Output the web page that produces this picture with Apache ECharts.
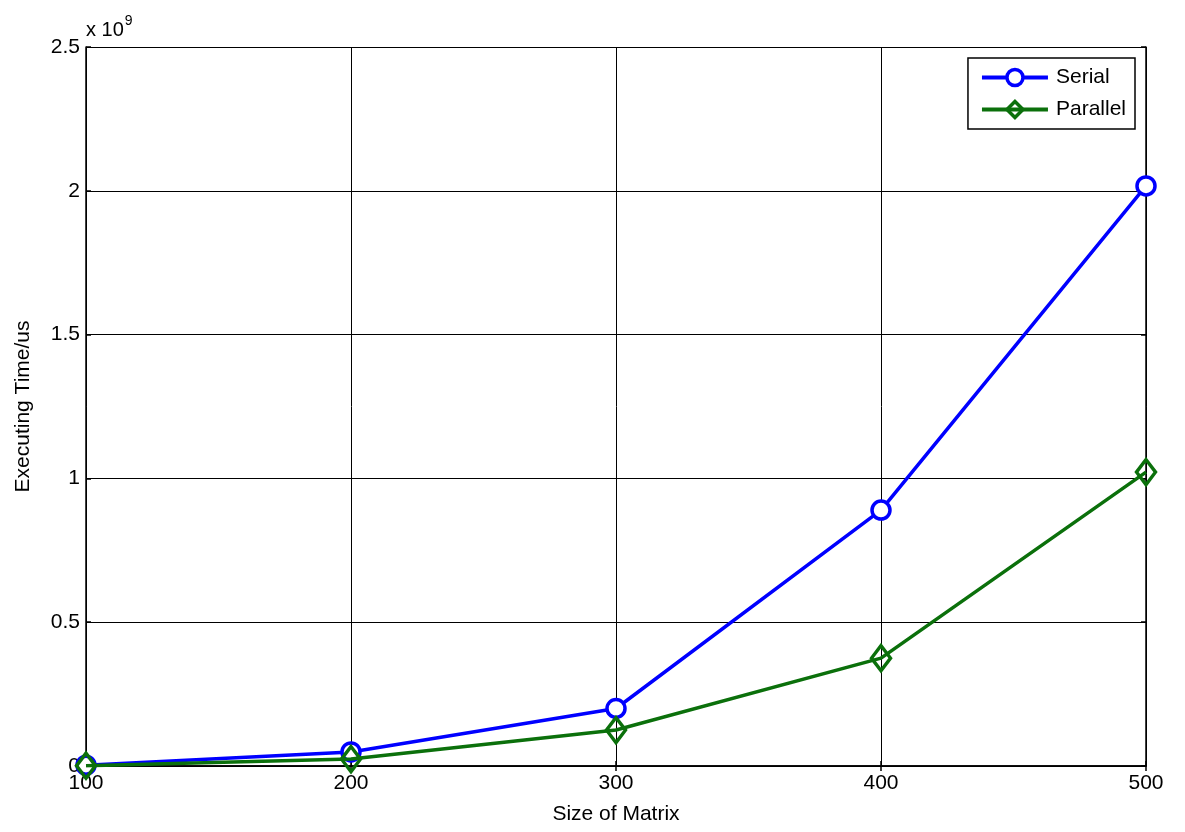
<!DOCTYPE html>
<html><head><meta charset="utf-8">
<script src="https://cdn.jsdelivr.net/npm/echarts@6/dist/echarts.min.js"></script>
<style>html,body{margin:0;padding:0;background:#fff}#c{width:1185px;height:832px}</style>
</head><body><div id="c"></div>
<script>
const sizes = [100, 200, 300, 400, 500];
const serial = [0.003, 0.049, 0.20, 0.89, 2.017];     // x 10^9 us
const parallel = [0.001, 0.024, 0.125, 0.375, 1.022]; // x 10^9 us
const yTicks = [0, 0.5, 1, 1.5, 2, 2.5];
const xTitle = 'Size of Matrix';
const yTitle = 'Executing Time/us';

const font = 'Liberation Sans, Arial, sans-serif';
const chart = echarts.init(document.getElementById('c'));
const pair = (xs, ys) => xs.map((x, i) => [x, ys[i]]);
const axisCommon = {
  axisLine: {show: true, lineStyle: {color: '#000', width: 1.5}},
  axisTick: {show: true, inside: true, length: 5, lineStyle: {color: '#000', width: 1.5}},
};
chart.setOption({
  animation: false,
  grid: {left: 86, right: 39, top: 47, bottom: 66, containLabel: false},
  legend: {
    right: 50, top: 58, orient: 'vertical',
    itemWidth: 66, itemHeight: 20, itemGap: 11,
    padding: [9, 9, 9, 12],
    borderColor: '#000', borderWidth: 1.5, backgroundColor: '#fff',
    textStyle: {fontFamily: font, fontSize: 21, color: '#000', padding: [0, 0, 0, 3]},
    lineStyle: {width: 4},
    itemStyle: {borderWidth: 3.5},
    data: ['Serial', 'Parallel']
  },
  xAxis: [{
    type: 'value', min: 100, max: 500, interval: 100,
    name: xTitle, nameLocation: 'middle', nameGap: 38,
    nameTextStyle: {fontFamily: font, fontSize: 21, color: '#000'},
    axisLabel: {fontFamily: font, fontSize: 21, color: '#000', margin: 7},
    splitLine: {show: true, lineStyle: {color: '#000', width: 1}},
    ...axisCommon
  }, {
    type: 'value', min: 100, max: 500, interval: 100, position: 'top',
    axisLabel: {show: false}, splitLine: {show: false}, ...axisCommon
  }],
  yAxis: [{
    type: 'value', min: 0, max: 2.5, interval: 0.5,
    name: yTitle, nameLocation: 'middle', nameGap: 52,
    nameTextStyle: {fontFamily: font, fontSize: 21, color: '#000'},
    axisLabel: {fontFamily: font, fontSize: 21, color: '#000', margin: 6,
      formatter: v => yTicks.includes(v) ? String(v) : ''},
    splitLine: {show: true, lineStyle: {color: '#000', width: 1}},
    ...axisCommon
  }, {
    type: 'value', min: 0, max: 2.5, interval: 0.5, position: 'right',
    axisLabel: {show: false}, splitLine: {show: false}, ...axisCommon
  }],
  graphic: [{
    type: 'text', left: 86, top: 14,
    style: {
      text: '{a|x 10}{b|9}',
      rich: {
        a: {fontFamily: font, fontSize: 20, color: '#000', verticalAlign: 'bottom', lineHeight: 26},
        b: {fontFamily: font, fontSize: 14, color: '#000', verticalAlign: 'top', lineHeight: 26, padding: [0, 0, 10, 1]}
      }
    }
  }],
  series: [{
    name: 'Serial', type: 'line', data: pair(sizes, serial),
    symbol: 'circle', symbolSize: 18, showAllSymbol: true,
    lineStyle: {color: '#0000ff', width: 3.5},
    itemStyle: {color: '#fff', borderColor: '#0000ff', borderWidth: 3.5},
    color: '#0000ff', z: 3
  }, {
    name: 'Parallel', type: 'line', data: pair(sizes, parallel),
    symbol: 'diamond', symbolSize: [19, 25], showAllSymbol: true,
    lineStyle: {color: '#0b700b', width: 3.5},
    itemStyle: {color: 'rgba(255,255,255,0)', borderColor: '#0b700b', borderWidth: 3.5},
    color: '#0b700b', z: 4
  }]
});
</script></body></html>
